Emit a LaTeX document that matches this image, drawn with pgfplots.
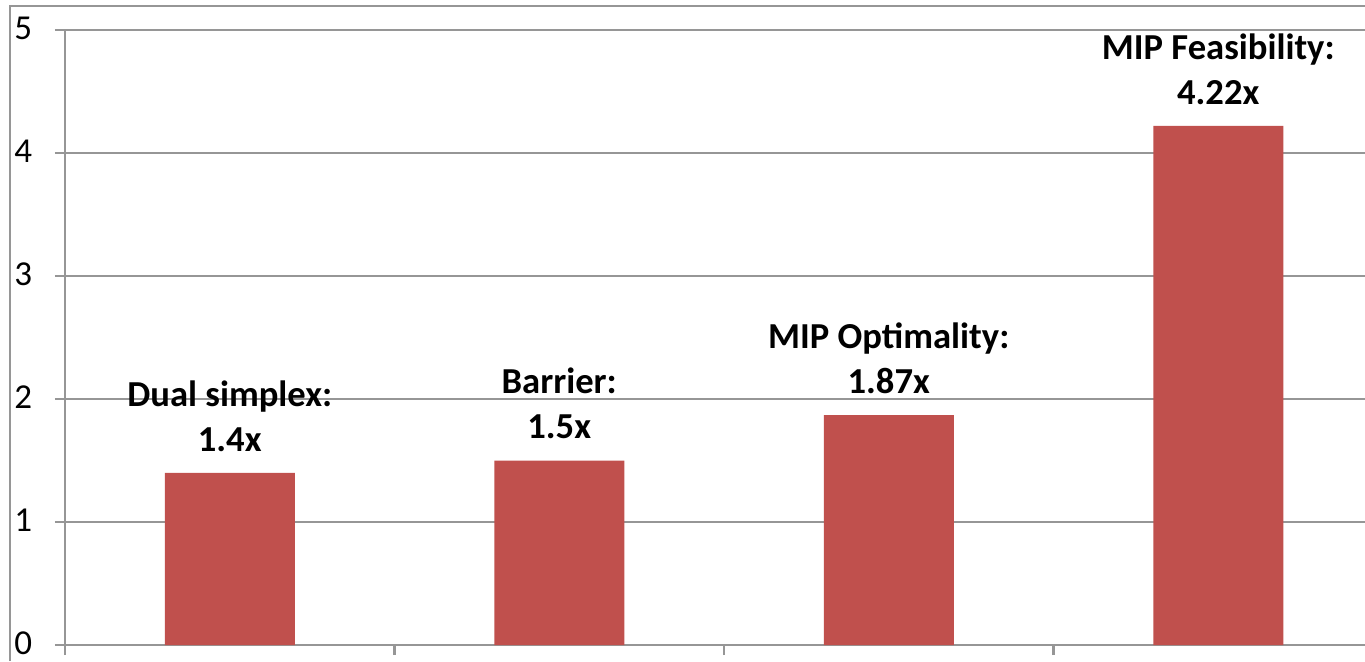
\documentclass[border=0pt]{standalone}
\usepackage{fontspec}
\setmainfont{Carlito}
\usepackage{pgfplots}
\usepackage{pgfplotstable}
\pgfplotsset{compat=1.18}
\definecolor{barred}{HTML}{C0504D}
\definecolor{gridgray}{RGB}{150,150,150}
\pgfplotstableread[col sep=comma]{
x,y,label
0,1.40,{Dual simplex:\\1.4x}
1,1.50,{Barrier:\\1.5x}
2,1.87,{MIP Optimality:\\1.87x}
3,4.22,{MIP Feasibility:\\4.22x}
}\speedup
\begin{document}
\begin{tikzpicture}
\useasboundingbox (0,0) rectangle (682.5pt,330.5pt);
\draw[gridgray, line width=1pt] (5pt,0) -- (5pt,327.5pt) -- (690pt,327.5pt);
\begin{axis}[
  at={(32.5pt,8pt)}, anchor=south west,
  scale only axis,
  width=659pt, height=307.5pt,
  xmin=-0.5, xmax=3.5, ymin=0, ymax=5,
  axis lines=left,
  axis line style={draw=gridgray, line width=1.2pt, -},
  xtick={-0.5,0.5,1.5,2.5,3.5},
  xticklabels={},
  ytick={0,1,2,3,4,5},
  tick align=outside,
  major tick length=5pt,
  tick style={draw=gridgray, line width=1.2pt},
  ymajorgrids,
  grid style={draw=gridgray, line width=1.2pt},
  /pgf/number format/assume math mode=true,
  yticklabel style={anchor=west, xshift=-20.5pt, yshift=0.8pt, inner sep=0pt, font=\fontsize{17.5}{19}\selectfont},
  ybar, bar width=65pt, bar shift=0pt,
  point meta=explicit symbolic,
  nodes near coords,
  every node near coord/.append style={anchor=south, inner sep=0pt, yshift=10.5pt, align=center, font=\fontsize{18.3}{22.5}\selectfont\bfseries, text=black},
  clip=false,
]
\addplot[fill=barred, draw=none] table[x=x, y=y, meta=label] {\speedup};
\end{axis}
\end{tikzpicture}
\end{document}
